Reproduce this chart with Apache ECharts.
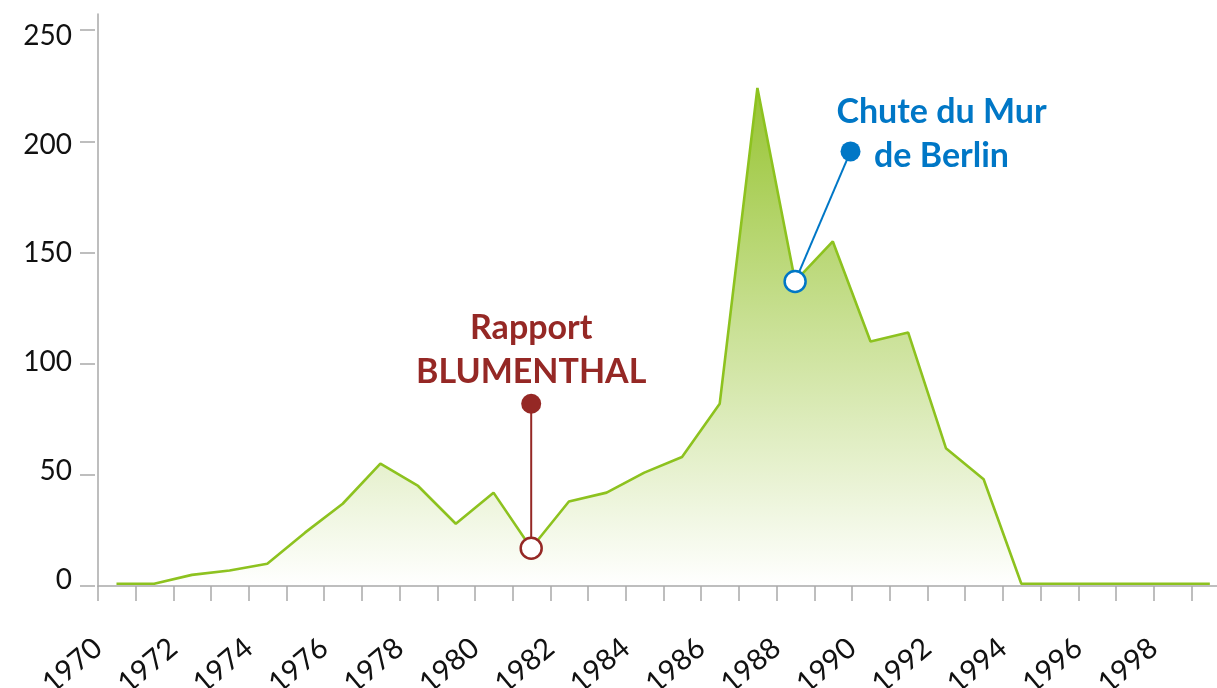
<!DOCTYPE html>
<html>
<head>
<meta charset="utf-8">
<script src="https://cdn.jsdelivr.net/npm/echarts@6/dist/echarts.min.js"></script>
<style>
html,body{margin:0;padding:0;background:#fff;}
#chart{width:1217px;height:688px;}
</style>
</head>
<body>
<div id="chart"></div>
<script>
// ---- data ----
const years = [1970,1971,1972,1973,1974,1975,1976,1977,1978,1979,1980,1981,1982,1983,1984,1985,1986,1987,1988,1989,1990,1991,1992,1993,1994,1995,1996,1997,1998,1999];
const counts = [1,1,5,7,10,24,37,55,45,28,42,17,38,42,51,58,82,224,137,155,110,114,62,48,1,1,1,1,1,1];
const xLabelYears = [1970,1972,1974,1976,1978,1980,1982,1984,1986,1988,1990,1992,1994,1996,1998];
const yTickValues = [0,50,100,150,200,250];

// annotations: event year, label, pin head (year, value)
const annoBlumenthal = { year: 1981, text: 'Rapport\nBLUMENTHAL', headYear: 1981, headValue: 82 };
const annoBerlin = { year: 1988, text: 'Chute du Mur\nde Berlin', headYear: 1989.47, headValue: 195.5 };

const MID = 0.49; // values plotted at mid-year
const RED = '#952825';
const BLUE = '#0077c6';
const GREEN = '#8dc21f';
const AXIS = '#a9a9a9';
const FONT = 'Lato';

const X_MIN = 1970, X_MAX = 1999.68;
const Y_MAX = 257.3;

const lineData = years.map((y, i) => [y + MID, counts[i]]);
function valueAt(year) { return counts[years.indexOf(year)]; }

function pinSeries(a, color) {
  const base = [a.year + MID, valueAt(a.year)];
  const head = [a.headYear + MID, a.headValue];
  return [
    { type: 'line', data: [base, head], symbol: 'none', z: 3,
      lineStyle: { color: color, width: 2, opacity: 1 }, silent: true, animation: false },
    { type: 'scatter', data: [head], symbol: 'circle', symbolSize: 20, z: 5,
      itemStyle: { color: color, opacity: 1 }, animation: false, silent: true },
    { type: 'scatter', data: [base], symbol: 'circle', symbolSize: 21, z: 5,
      itemStyle: { color: '#fff', borderColor: color, borderWidth: 2.5, opacity: 1 }, animation: false, silent: true }
  ];
}

function labelSeries(a, color, offset) {
  return { type: 'scatter', data: [[a.headYear + MID, a.headValue]],
    symbolSize: 1, itemStyle: { color: 'rgba(0,0,0,0)', opacity: 1 }, z: 6, silent: true,
    label: { show: true, position: 'inside', offset: offset, formatter: a.text, opacity: 1,
      fontFamily: FONT, fontWeight: 'bold', fontSize: 34, lineHeight: 44, color: color, align: 'center' } };
}

const chart = echarts.init(document.getElementById('chart'));
const option = {
  animation: false,
  backgroundColor: '#fff',
  grid: { left: 98, right: 0, top: 14, bottom: 102, containLabel: false, outerBoundsMode: 'none' },
  xAxis: [
    { type: 'value', min: X_MIN, max: X_MAX, position: 'bottom',
      axisLine: { show: true, lineStyle: { color: AXIS, width: 1.5 } },
      axisTick: { show: false }, axisLabel: { show: false }, splitLine: { show: false } },
    { type: 'value', min: X_MIN, max: X_MAX, position: 'bottom', offset: 3,
      axisLine: { show: false },
      axisTick: { show: true, length: 15, customValues: years, lineStyle: { color: AXIS, width: 1.5 } },
      axisLabel: { show: true, customValues: xLabelYears, rotate: 40, margin: 55, hideOverlap: false,
        fontSize: 29, fontFamily: FONT, color: '#111', formatter: v => String(v) },
      splitLine: { show: false } }
  ],
  yAxis: [
    { type: 'value', min: 0, max: Y_MAX, position: 'left',
      axisLine: { show: true, lineStyle: { color: AXIS, width: 1.5 } },
      axisTick: { show: false }, axisLabel: { show: false }, splitLine: { show: false } },
    { type: 'value', min: 0, max: Y_MAX, position: 'left', offset: 3,
      axisLine: { show: false },
      axisTick: { show: true, length: 15, customValues: yTickValues, lineStyle: { color: AXIS, width: 1.5 } },
      axisLabel: { show: false }, splitLine: { show: false } },
    { type: 'value', min: -2.76, max: 260, position: 'left', offset: 0,
      axisLine: { show: false }, axisTick: { show: false },
      axisLabel: { show: true, customValues: yTickValues, margin: 26, fontSize: 28,
        fontFamily: FONT, color: '#111' },
      splitLine: { show: false } }
  ],
  series: [
    { type: 'line', data: lineData, symbol: 'none', z: 2, animation: false,
      lineStyle: { color: GREEN, width: 2.6 },
      areaStyle: { opacity: 1, color: new echarts.graphic.LinearGradient(0, 0, 0, 1, [
        { offset: 0, color: 'rgba(146,193,40,0.95)' },
        { offset: 1, color: 'rgba(146,193,40,0)' }
      ]) } },
    ...pinSeries(annoBlumenthal, RED),
    ...pinSeries(annoBerlin, BLUE),
    labelSeries(annoBlumenthal, RED, [0, -54]),
    labelSeries(annoBerlin, BLUE, [91, -17])
  ]
};
chart.setOption(option);
</script>
</body>
</html>
